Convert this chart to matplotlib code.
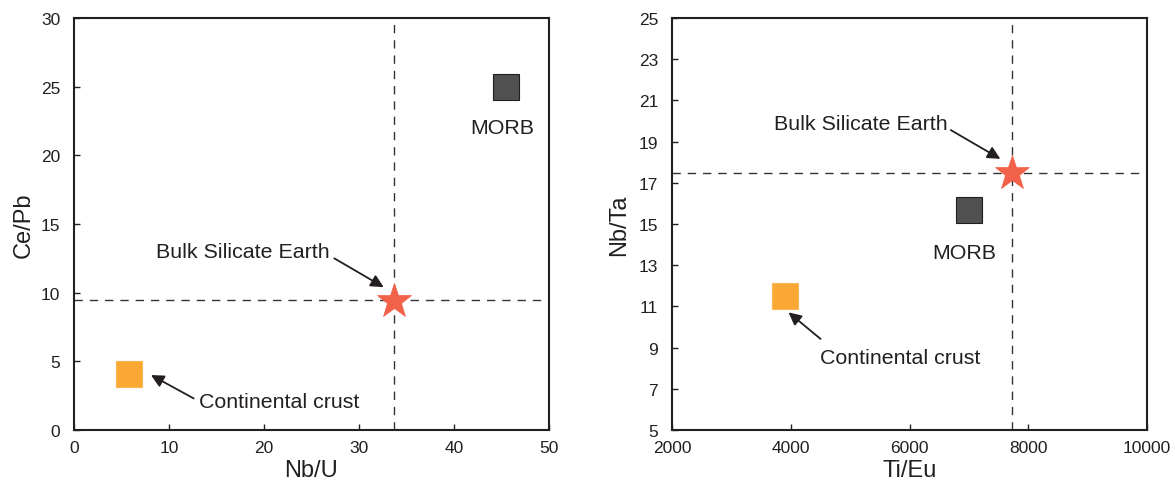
import matplotlib
matplotlib.use('Agg')
import matplotlib.pyplot as plt

plt.rcParams['font.family'] = ['Liberation Sans', 'DejaVu Sans']

TXT = '#231f20'

# --- left panel: Nb/U vs Ce/Pb ---
nbu_morb, cepb_morb = 45.5, 25.0
nbu_cc, cepb_cc = 5.8, 4.1
nbu_bse, cepb_bse = 33.7, 9.4
nbu_ref, cepb_ref = 33.7, 9.5

# --- right panel: Ti/Eu vs Nb/Ta ---
tieu_morb, nbta_morb = 7000, 15.7
tieu_cc, nbta_cc = 3900, 11.5
tieu_bse, nbta_bse = 7720, 17.5
tieu_ref, nbta_ref = 7720, 17.5

left_xticks = [0, 10, 20, 30, 40, 50]
left_yticks = [0, 5, 10, 15, 20, 25, 30]
right_xticks = [2000, 4000, 6000, 8000, 10000]
right_yticks = [5, 7, 9, 11, 13, 15, 17, 19, 21, 23, 25]

fig = plt.figure(figsize=(11.75, 4.89), dpi=100)
ax1 = fig.add_axes([74 / 1175, 58 / 489, 475 / 1175, 412 / 489])
ax2 = fig.add_axes([672 / 1175, 58 / 489, 475 / 1175, 412 / 489])


def style(ax):
    for s in ax.spines.values():
        s.set_linewidth(1.5)
        s.set_color(TXT)
    ax.tick_params(direction='in', length=4, width=1, colors=TXT, labelsize=12.5)
    ax.tick_params(axis='x', pad=7)
    ax.tick_params(axis='y', pad=10)


def square(ax, x, y, color, edge):
    ax.plot(x, y, marker='s', ms=19, mfc=color, mec=edge, mew=0.8,
            linestyle='none', zorder=4)


def star(ax, x, y):
    ax.plot(x, y, marker='*', ms=26, mfc='#f26149', mec='#f26149', mew=0.5,
            linestyle='none', zorder=5)


def arrow(ax, xy, xytext):
    ax.annotate('', xy=xy, xytext=xytext,
                arrowprops=dict(arrowstyle='-|>', color=TXT, lw=1.3,
                                mutation_scale=19, shrinkA=0, shrinkB=0))


dash = (0, (6, 5))

# left
ax1.axvline(nbu_ref, color='#333333', lw=1.0, linestyle=dash, zorder=2)
ax1.axhline(cepb_ref, color='#333333', lw=1.0, linestyle=dash, zorder=2)
square(ax1, nbu_morb, cepb_morb, '#505050', '#1e1e1e')
square(ax1, nbu_cc, cepb_cc, '#f9a833', '#fbb552')
star(ax1, nbu_bse, cepb_bse)
ax1.text(45.1, 22.0, 'MORB', fontsize=15.4, color=TXT, ha='center', va='center')
ax1.text(8.6, 13.0, 'Bulk Silicate Earth', fontsize=15.4, color=TXT, ha='left', va='center')
ax1.text(13.2, 2.05, 'Continental crust', fontsize=15.4, color=TXT, ha='left', va='center')
arrow(ax1, (32.6, 10.4), (27.4, 12.5))
arrow(ax1, (8.1, 4.0), (12.6, 2.3))
ax1.set_xlim(0, 50)
ax1.set_ylim(0, 30)
ax1.set_xticks(left_xticks)
ax1.set_yticks(left_yticks)
ax1.set_xlabel('Nb/U', fontsize=17, color=TXT, labelpad=3)
ax1.set_ylabel('Ce/Pb', fontsize=17, color=TXT, labelpad=4)
style(ax1)

# right
ax2.axvline(tieu_ref, color='#333333', lw=1.0, linestyle=dash, zorder=2)
ax2.axhline(nbta_ref, color='#333333', lw=1.0, linestyle=dash, zorder=2)
square(ax2, tieu_morb, nbta_morb, '#505050', '#1e1e1e')
square(ax2, tieu_cc, nbta_cc, '#f9a833', '#fbb552')
star(ax2, tieu_bse, nbta_bse)
ax2.text(6930, 13.6, 'MORB', fontsize=15.4, color=TXT, ha='center', va='center')
ax2.text(3710, 19.9, 'Bulk Silicate Earth', fontsize=15.4, color=TXT, ha='left', va='center')
ax2.text(4490, 8.5, 'Continental crust', fontsize=15.4, color=TXT, ha='left', va='center')
arrow(ax2, (7530, 18.16), (6695, 19.56))
arrow(ax2, (3963, 10.71), (4502, 9.42))
ax2.set_xlim(2000, 10000)
ax2.set_ylim(5, 25)
ax2.set_xticks(right_xticks)
ax2.set_yticks(right_yticks)
ax2.set_xlabel('Ti/Eu', fontsize=17, color=TXT, labelpad=3)
ax2.set_ylabel('Nb/Ta', fontsize=17, color=TXT, labelpad=6)
style(ax2)

fig.savefig('out.png', dpi=100)
